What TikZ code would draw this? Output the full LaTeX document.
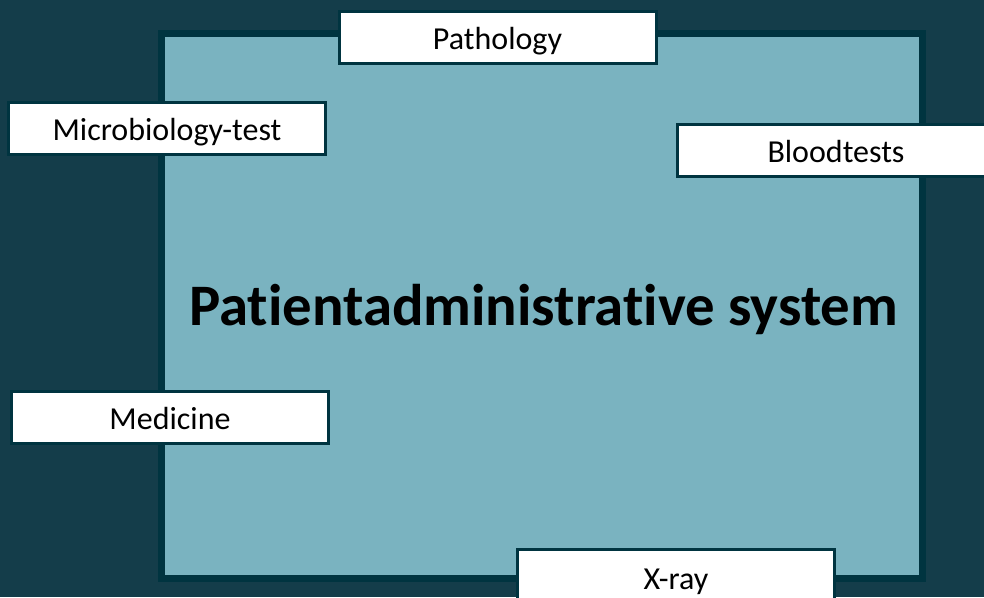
\documentclass[tikz,border=0pt]{standalone}
\usepackage{fontspec}
\setmainfont{Carlito}[Ligatures={NoCommon}]
\definecolor{bgdark}{RGB}{20,61,74}
\definecolor{panel}{RGB}{122,179,192}
\definecolor{edge}{RGB}{0,52,64}
\tikzset{
  labelbox/.style={draw=edge, line width=3pt, fill=white, minimum width=317pt, minimum height=52pt,
    inner sep=0pt, text height=24pt, text depth=0pt, font=\fontsize{32}{34}\selectfont, text=black},
}
\begin{document}
\begin{tikzpicture}[x=1pt,y=-1pt]
\useasboundingbox (0,0) rectangle (984,597);
\fill[bgdark] (0,0) rectangle (984,597);
\node[draw=edge, line width=7pt, fill=panel, minimum width=761pt, minimum height=545pt, inner sep=0pt] (sys) at (542,306) {};
\node[anchor=base, font=\fontsize{58.8}{60}\selectfont\bfseries, text=black, inner sep=0pt] (title) at (543.5,325) {Patientadministrative system};
\node[labelbox] (patho) at (497.5,37) {Pathology};
\node[labelbox] (micro) at (167,128.5) {Microbiology-test};
\node[labelbox] (blood) at (836,150.5) {Bloodtests};
\node[labelbox] (medic) at (170,417) {Medicine};
\node[labelbox, minimum height=56pt] (xray) at (676,577.5) {X-ray};
\end{tikzpicture}
\end{document}
